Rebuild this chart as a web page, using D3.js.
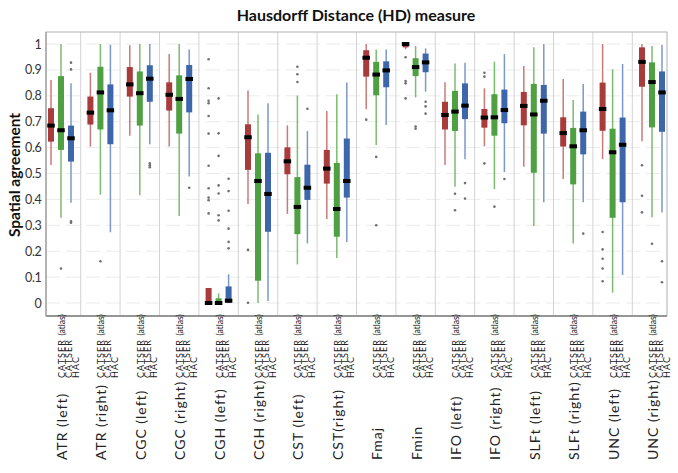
<!DOCTYPE html>
<html><head><meta charset="utf-8">
<script src="https://cdn.jsdelivr.net/npm/d3@7"></script>
<style>body{margin:0;background:#fff}svg{display:block}</style>
</head><body><div id="chart"></div>
<script>
const groups = ["ATR (left)","ATR (right)","CGC (left)","CGC (right)","CGH (left)","CGH (right)","CST (left)","CST(right)","Fmaj","Fmin","IFO (left)","IFO (right)","SLFt (left)","SLFt (right)","UNC (left)","UNC (right)"];
const series = ["CATSER (atlas)","CATSER","HAC"];
const yTicks = [0,0.1,0.2,0.3,0.4,0.5,0.6,0.7,0.8,0.9,1];
const yTickLabels = ["0","0.1","0.2","0.3","0.4","0.5","0.6","0.7","0.8","0.9","1"];
// [lower whisker, q1, median, q3, upper whisker]
const atlasStats = [[0.533,0.623,0.685,0.752,0.861],[0.604,0.689,0.735,0.797,0.889],[0.646,0.797,0.844,0.911,0.995],[0.604,0.743,0.804,0.852,0.961],[0,0,0,0.058,0.058],[0.382,0.514,0.640,0.690,0.820],[0.344,0.497,0.547,0.601,0.686],[0.324,0.461,0.519,0.591,0.741],[0.748,0.874,0.947,0.976,1.0],[0.98,0.987,1.0,1.0,1.0],[0.533,0.670,0.726,0.777,0.852],[0.605,0.677,0.716,0.749,0.829],[0.526,0.686,0.761,0.815,0.915],[0.479,0.604,0.656,0.717,0.865],[0.556,0.665,0.749,0.851,1.0],[0.625,0.835,0.931,0.987,1.0]];
const catserStats = [[0.329,0.591,0.667,0.876,1.0],[0.418,0.670,0.813,0.912,1.0],[0.416,0.685,0.810,0.894,1.0],[0.336,0.654,0.788,0.879,1.0],[0,0,0,0.018,0.037],[0.0,0.086,0.471,0.578,0.728],[0.149,0.266,0.371,0.486,0.801],[0.174,0.256,0.363,0.541,0.806],[0.610,0.802,0.882,0.931,0.979],[0.794,0.876,0.911,0.945,0.992],[0.449,0.664,0.739,0.819,0.925],[0.440,0.646,0.717,0.806,0.932],[0.297,0.503,0.728,0.846,0.987],[0.230,0.458,0.605,0.676,0.784],[0.040,0.329,0.582,0.673,0.902],[0.331,0.678,0.853,0.929,0.992]];
const hacStats = [[0.387,0.546,0.636,0.685,0.848],[0.273,0.613,0.744,0.844,0.997],[0.613,0.777,0.866,0.918,1.0],[0.488,0.736,0.865,0.919,0.979],[0,0.001,0.009,0.064,0.111],[0.008,0.275,0.421,0.580,0.771],[0.230,0.398,0.445,0.534,0.664],[0.236,0.407,0.471,0.635,0.851],[0.687,0.833,0.898,0.933,0.979],[0.816,0.891,0.929,0.963,0.983],[0.555,0.710,0.762,0.848,0.928],[0.505,0.694,0.745,0.824,0.961],[0.389,0.654,0.781,0.842,1.0],[0.389,0.574,0.667,0.739,0.846],[0.108,0.389,0.611,0.716,0.923],[0.349,0.661,0.813,0.894,0.997]];
const atlasOutliers = [[],[],[],[],[0.941,0.829,0.781,0.771,0.722,0.654,0.530,0.443,0.407,0.397,0.346],[0.205,0.001],[],[],[0.708],[0.949,0.857,0.848,0.790],[],[0.889,0.874,0.539],[],[],[0.274,0.207,0.171,0.133,0.084],[0.532,0.414,0.350]];
const catserOutliers = [[0.133],[0.161],[],[],[0.790,0.655,0.568,0.454,0.423,0.339,0.319],[],[0.912,0.883,0.853],[],[0.564,0.300],[0.681,0.673],[0.422,0.358],[0.372],[],[],[],[0.229]];
const hacOutliers = [[0.928,0.902,0.315,0.310],[],[0.539,0.532,0.524],[0.445],[0.480,0.432,0.356,0.287,0.236,0.211],[],[0.750],[],[],[0.777,0.759,0.731],[0.463,0.403],[0.479],[],[0.268],[],[0.161,0.080]];
const boxColors = ["#a83b3b","#4f9f43","#3d66ab"];
const whiskerColors = ["#c97a78","#7dbb70","#7b98c9"];

const W = 678, H = 473;
const svg = d3.select("#chart").append("svg").attr("width", W).attr("height", H);
const fontMain = "Lato, 'Open Sans', sans-serif";

const x = d3.scaleBand().domain(groups).range([41.3, 671.7]).padding(0);
const xs = d3.scaleBand().domain(series).range([-15, 15]).padding(0);
const y = d3.scaleLinear().domain([0, 1]).range([303, 44]);

const plot = {left: 46, right: 667, top: 32, bottom: 316};

// gridlines
svg.append("g").selectAll("line").data(yTicks).join("line")
  .attr("x1", plot.left).attr("x2", plot.right)
  .attr("y1", d => y(d)).attr("y2", d => y(d))
  .attr("stroke", "#ebebeb").attr("stroke-width", 1).attr("stroke-dasharray", "14,6");

// group separators
svg.append("g").selectAll("line").data(groups.slice(1)).join("line")
  .attr("x1", d => x(d)).attr("x2", d => x(d))
  .attr("y1", plot.top).attr("y2", plot.bottom)
  .attr("stroke", "#d3d3d3").attr("stroke-width", 1);

// frame
svg.append("rect").attr("x", plot.left).attr("y", plot.top)
  .attr("width", plot.right - plot.left).attr("height", plot.bottom - plot.top)
  .attr("fill", "none").attr("stroke", "#b0b0b0").attr("stroke-width", 1);
svg.append("line").attr("x1", plot.left).attr("x2", plot.right).attr("y1", plot.bottom).attr("y2", plot.bottom)
  .attr("stroke", "#808080").attr("stroke-width", 1.5);
svg.append("line").attr("x1", plot.left).attr("x2", plot.left).attr("y1", plot.top).attr("y2", plot.bottom)
  .attr("stroke", "#909090").attr("stroke-width", 1);

// y axis labels via d3 axis
const yAxis = d3.axisLeft(y).tickValues(yTicks).tickFormat((d, i) => yTickLabels[i]).tickSize(0).tickPadding(0);
const ya = svg.append("g").attr("transform", "translate(41.5,0)").call(yAxis);
ya.select(".domain").remove();
ya.selectAll("text").attr("font-family", fontMain).attr("font-size", 12.5).attr("letter-spacing", -0.3).attr("fill", "#333");

const allStats = [atlasStats, catserStats, hacStats];
const allOut = [atlasOutliers, catserOutliers, hacOutliers];
const bw = 6, mw = 7.5;

series.forEach((s, si) => {
  const g = svg.append("g");
  const data = groups.map((gname, gi) => ({g: gname, st: allStats[si][gi], out: allOut[si][gi]}));
  const cx = d => x(d.g) + x.bandwidth() / 2 + xs(s) + xs.bandwidth() / 2;
  g.selectAll(".wh").data(data.filter(d => d.st[4] > d.st[0])).join("line")
    .attr("x1", cx).attr("x2", cx)
    .attr("y1", d => y(d.st[0])).attr("y2", d => y(d.st[4]))
    .attr("stroke", whiskerColors[si]).attr("stroke-width", 1.5);
  g.selectAll(".bx").data(data).join("rect")
    .attr("x", d => cx(d) - bw / 2).attr("width", bw)
    .attr("y", d => y(d.st[3])).attr("height", d => Math.max(1, y(d.st[1]) - y(d.st[3])))
    .attr("fill", boxColors[si]);
  g.selectAll(".md").data(data).join("rect")
    .attr("x", d => cx(d) - mw / 2).attr("width", mw)
    .attr("y", d => y(d.st[2]) - 2).attr("height", 4)
    .attr("fill", "#000");
  const outs = [];
  data.forEach(d => d.out.forEach(v => outs.push({g: d.g, v})));
  g.selectAll(".ot").data(outs).join("circle")
    .attr("cx", d => x(d.g) + x.bandwidth() / 2 + xs(s) + xs.bandwidth() / 2)
    .attr("cy", d => y(d.v)).attr("r", 1.3).attr("fill", "#707070");
});

// x labels
const lab = svg.append("g").attr("font-family", fontMain).attr("fill", "#222");
groups.forEach(gname => {
  const c = x(gname) + x.bandwidth() / 2;
  lab.append("text").attr("transform", `translate(${c + 6},460) rotate(-90)`)
    .attr("font-size", 14).attr("letter-spacing", 1).text(gname);
  const offs = [4, 10.8, 17.6];
  series.forEach((s, si) => {
    const t = lab.append("text").attr("transform", `translate(${c + offs[si]},378) rotate(-90)`)
      .attr("font-size", 9).attr("letter-spacing", 1.1);
    if (si === 0) {
      t.append("tspan").text("CATSER ");
      t.append("tspan").attr("font-size", 8.5).attr("letter-spacing", 0).text("(atlas)");
    } else t.text(s);
  });
});

// titles
svg.append("text").attr("x", 356).attr("y", 21).attr("text-anchor", "middle")
  .attr("font-family", fontMain).attr("font-weight", "bold").attr("font-size", 16).attr("fill", "#111")
  .text("Hausdorff Distance (HD) measure");
svg.append("text").attr("transform", "translate(20,175) rotate(-90)").attr("text-anchor", "middle")
  .attr("font-family", fontMain).attr("font-weight", "bold").attr("font-size", 15.5).attr("fill", "#111")
  .text("Spatial agreement");
</script></body></html>
